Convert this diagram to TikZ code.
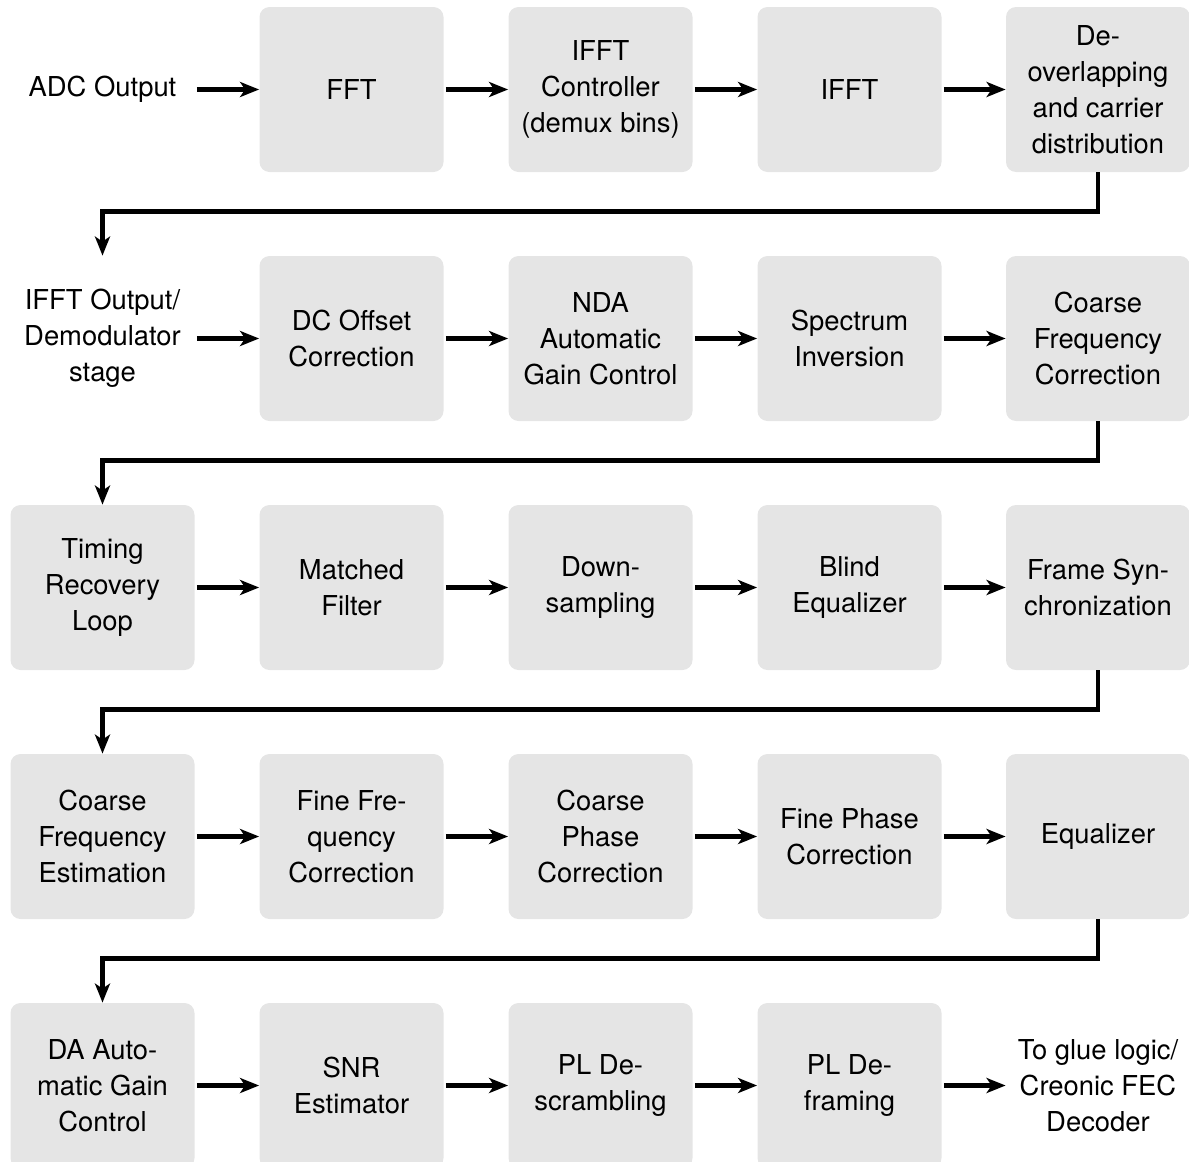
\documentclass[tikz,border=0pt]{standalone}
\usepackage{fontspec}
\setmainfont{TeX Gyre Heros}
\usetikzlibrary{arrows.meta}
\tikzset{
  blk/.style={fill=black!10, draw=none, rounded corners=5pt, minimum width=92pt, minimum height=82.5pt, align=center, inner sep=2pt},
  lbl/.style={minimum width=92pt, minimum height=82.5pt, align=center, inner sep=2pt},
  flow/.style={line width=2.2pt, shorten <=1pt, -{Stealth[length=9.5pt,width=7.5pt,inset=2.5pt]}},
}
\begin{document}
\begin{tikzpicture}[x=0.5pt, y=-0.5pt, font=\fontsize{13.7}{18}\selectfont]
  \useasboundingbox (0,0) rectangle (1189,1162);
  \def\ca{102.5} \def\cb{351.5} \def\cc{600.5} \def\cd{849.5} \def\ce{1098}
  \def\ra{89.5} \def\rb{338.5} \def\rc{587.5} \def\rd{836.5} \def\re{1085.5}
  % row 1
  \node[lbl] (adc)   at (\ca,\ra) {ADC Output};
  \node[blk] (fft)   at (\cb,\ra) {FFT};
  \node[blk] (ifftc) at (\cc,\ra) {IFFT\\Controller\\(demux bins)};
  \node[blk] (ifft)  at (\cd,\ra) {IFFT};
  \node[blk] (deov)  at (\ce,\ra) {De-\\overlapping\\and carrier\\distribution};
  % row 2
  \node[lbl] (demod) at (\ca,\rb) {IFFT Output/\\Demodulator\\stage};
  \node[blk] (dcoff) at (\cb,\rb) {DC Offset\\Correction};
  \node[blk] (nagc)  at (\cc,\rb) {NDA\\Automatic\\Gain Control};
  \node[blk] (spinv) at (\cd,\rb) {Spectrum\\Inversion};
  \node[blk] (cfc)   at (\ce,\rb) {Coarse\\Frequency\\Correction};
  % row 3
  \node[blk] (trl)   at (\ca,\rc) {Timing\\Recovery\\Loop};
  \node[blk] (mf)    at (\cb,\rc) {Matched\\Filter};
  \node[blk] (dsmp)  at (\cc,\rc) {Down-\\sampling};
  \node[blk] (beq)   at (\cd,\rc) {Blind\\Equalizer};
  \node[blk] (fsync) at (\ce,\rc) {Frame Syn-\\chronization};
  % row 4
  \node[blk] (cfe)   at (\ca,\rd) {Coarse\\Frequency\\Estimation};
  \node[blk] (ffc)   at (\cb,\rd) {Fine Fre-\\quency\\Correction};
  \node[blk] (cpc)   at (\cc,\rd) {Coarse\\Phase\\Correction};
  \node[blk] (fpc)   at (\cd,\rd) {Fine Phase\\Correction};
  \node[blk] (equ)   at (\ce,\rd) {Equalizer};
  % row 5
  \node[blk] (dagc)  at (\ca,\re) {DA Auto-\\matic Gain\\Control};
  \node[blk] (snr)   at (\cb,\re) {SNR\\Estimator};
  \node[blk] (descr) at (\cc,\re) {PL De-\\scrambling};
  \node[blk] (defr)  at (\cd,\re) {PL De-\\framing};
  \node[lbl] (fec)   at (\ce,\re) {To glue logic/\\Creonic FEC\\Decoder};

  \foreach \a/\b in {adc/fft, fft/ifftc, ifftc/ifft, ifft/deov,
                     demod/dcoff, dcoff/nagc, nagc/spinv, spinv/cfc,
                     trl/mf, mf/dsmp, dsmp/beq, beq/fsync,
                     cfe/ffc, ffc/cpc, cpc/fpc, fpc/equ,
                     dagc/snr, snr/descr, descr/defr, defr/fec}
    \draw[flow] (\a) -- (\b);

  \foreach \a/\b in {deov/demod, cfc/trl, fsync/cfe, equ/dagc}
    \draw[flow, shorten <=0pt] (\a.south) -- ++(0,39) -| (\b.north);
\end{tikzpicture}
\end{document}
